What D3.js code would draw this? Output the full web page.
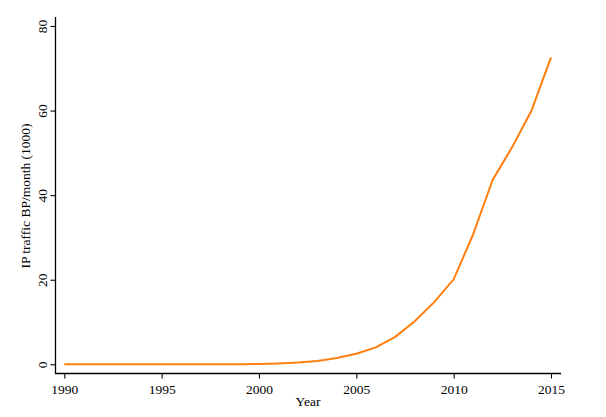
<!DOCTYPE html>
<html><head><meta charset="utf-8">
<script src="https://cdn.jsdelivr.net/npm/d3@7"></script>
<style>
body{margin:0;background:#fff;}
text{font-family:"Liberation Serif","Times New Roman",serif;fill:#000;}
</style></head>
<body>
<svg id="chart" width="606" height="417"></svg>
<script>
const years = [1990,1991,1992,1993,1994,1995,1996,1997,1998,1999,2000,2001,2002,2003,2004,2005,2006,2007,2008,2009,2010,2011,2012,2013,2014,2015];
const traffic = [0.001,0.002,0.005,0.01,0.02,0.02,0.02,0.03,0.04,0.04,0.08,0.2,0.42,0.8,1.5,2.5,4.0,6.5,10.2,14.7,20.1,30.7,43.6,51.3,60.0,72.6];
const xTicks = [1990,1995,2000,2005,2010,2015];
const yTicks = [0,20,40,60,80];
const xLabel = "Year";
const yLabel = "IP traffic BP/month (1000)";

const svg = d3.select("#chart");
const x = d3.scaleLinear().domain([1990,2015]).range([64.3,551]);
const y = d3.scaleLinear().domain([0,80]).range([364.3,26]);

const xAxis = svg.append("g").attr("transform","translate(0,373.5)")
  .call(d3.axisBottom(x).tickValues(xTicks).tickFormat(d3.format("d")).tickSize(5).tickSizeOuter(0));
xAxis.select(".domain").attr("d","M55,0H561").attr("stroke","#000").attr("stroke-width",1.3);
xAxis.selectAll(".tick line").attr("stroke","#000").attr("stroke-width",1.1);
xAxis.selectAll(".tick text").attr("font-size",13.5).attr("dy","0.95em").attr("fill","#000")
  .style("font-family","Liberation Serif, serif");

const yAxis = svg.append("g").attr("transform","translate(55.5,0)")
  .call(d3.axisLeft(y).tickValues(yTicks).tickSize(5).tickSizeOuter(0));
yAxis.select(".domain").attr("d","M0,17V374").attr("stroke","#000").attr("stroke-width",1.3);
yAxis.selectAll(".tick line").attr("stroke","#000").attr("stroke-width",1.1);
yAxis.selectAll(".tick text").attr("font-size",13.5).attr("fill","#000")
  .style("font-family","Liberation Serif, serif")
  .attr("x",null).attr("dy",null)
  .attr("text-anchor","middle")
  .attr("transform","translate(-9,0) rotate(-90)");

svg.append("path").datum(years.map((d,i)=>[d,traffic[i]]))
  .attr("fill","none").attr("stroke","#ff7f0e").attr("stroke-width",2)
  .attr("d", d3.line().x(d=>x(d[0])).y(d=>y(d[1])));

svg.append("text").attr("x",308).attr("y",406).attr("text-anchor","middle")
  .attr("font-size",13.5).text(xLabel);
svg.append("text").attr("transform","translate(30,196) rotate(-90)").attr("text-anchor","middle")
  .attr("font-size",13.5).text(yLabel);
</script>
</body></html>
